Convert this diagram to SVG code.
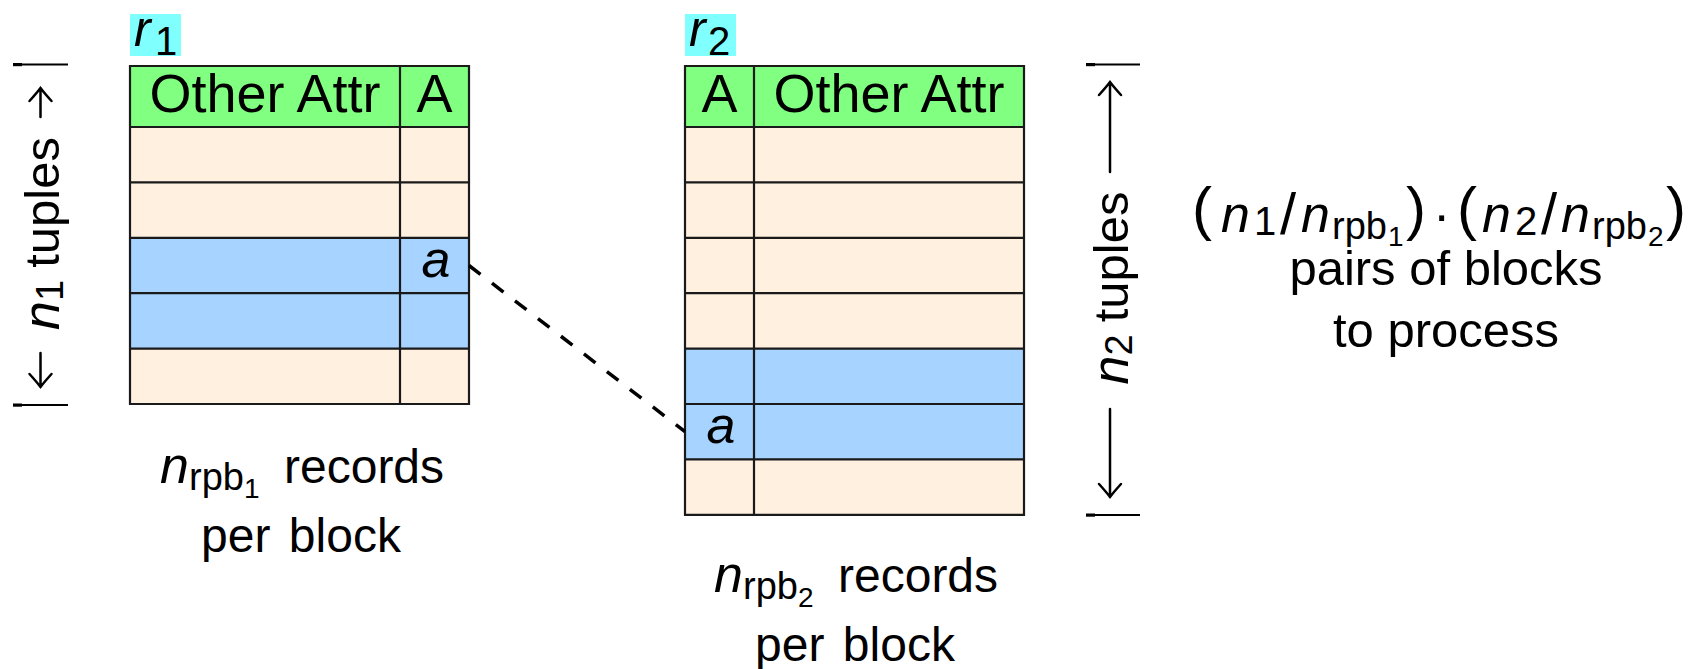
<svg xmlns="http://www.w3.org/2000/svg" width="1698" height="669" viewBox="0 0 1698 669">
<style>
.t{font-family:"Liberation Sans",Arial,sans-serif;fill:#000}
.i{font-style:italic}
.grid{stroke:#1a1a1a;stroke-width:2.2;fill:none}
.hdr{fill:#80FF80}
.row{fill:#FFF0E0}
.hl{fill:#A6D3FF}
.tag{fill:#80FFFF}
.ar{stroke:#000;stroke-width:2.5;fill:none;stroke-linecap:round}
.br{stroke:#000;stroke-width:2;fill:none}
</style>
<rect width="1698" height="669" fill="#fff"/>

<g id="label-r1">
<rect class="tag" x="130" y="14" width="51" height="42"/>
<text class="t" y="46"><tspan class="i" x="134" font-size="50">r</tspan><tspan x="155" y="55" font-size="40">1</tspan></text>
</g>
<g id="label-r2">
<rect class="tag" x="685" y="14" width="51" height="42"/>
<text class="t" y="46"><tspan class="i" x="689" font-size="50">r</tspan><tspan x="708" y="55" font-size="40">2</tspan></text>
</g>

<g id="table-r1">
<rect class="hdr" x="130" y="66" width="339" height="61"/>
<rect class="row" x="130" y="127" width="339" height="110.8"/>
<rect class="hl" x="130" y="237.8" width="339" height="110.8"/>
<rect class="row" x="130" y="348.6" width="339" height="55.4"/>
<path class="grid" d="M130 66H469V404H130Z M130 127H469 M130 182.4H469 M130 237.8H469 M130 293.2H469 M130 348.6H469 M400 66V404"/>
<text class="t" x="265" y="112" font-size="54" text-anchor="middle">Other Attr</text>
<text class="t" x="434.5" y="112" font-size="54" text-anchor="middle">A</text>
<text class="t i" x="436" y="277" font-size="52" text-anchor="middle">a</text>
</g>

<g id="table-r2">
<rect class="hdr" x="685" y="66" width="339" height="61"/>
<rect class="row" x="685" y="127" width="339" height="221.6"/>
<rect class="hl" x="685" y="348.6" width="339" height="110.8"/>
<rect class="row" x="685" y="459.4" width="339" height="55.4"/>
<path class="grid" d="M685 66H1024V514.8H685Z M685 127H1024 M685 182.4H1024 M685 237.8H1024 M685 293.2H1024 M685 348.6H1024 M685 404H1024 M685 459.4H1024 M754 66V514.8"/>
<text class="t" x="719.5" y="112" font-size="54" text-anchor="middle">A</text>
<text class="t" x="889" y="112" font-size="54" text-anchor="middle">Other Attr</text>
<text class="t i" x="721" y="443" font-size="52" text-anchor="middle">a</text>
</g>

<g id="connectors">
<line x1="469" y1="265.5" x2="685" y2="431.7" stroke="#000" stroke-width="3.5" stroke-dasharray="14.5 14.5"/>
</g>

<g id="label-n1-tuples">
<path class="br" d="M13 64.5H68 M13 405H68"/>
<rect x="13" y="63" width="9" height="3.2" fill="#000"/>
<rect x="13" y="403.5" width="9" height="3.2" fill="#000"/>
<path class="ar" d="M40.5 88V117 M29.5 101 C34 96,37.5 92,40.5 88 C43.5 92,47 96,51.5 101"/>
<path class="ar" d="M40.5 353V387 M29.5 374 C34 379,37.5 383,40.5 387 C43.5 383,47 379,51.5 374"/>
<text class="t" transform="translate(59,233.5) rotate(-90)" text-anchor="middle" font-size="49"><tspan class="i" font-size="52">n</tspan><tspan font-size="38" dy="4">1</tspan><tspan dx="12" dy="-4">tuples</tspan></text>
</g>

<g id="label-n2-tuples">
<path class="br" d="M1086 64.5H1140 M1086 515H1140"/>
<rect x="1086" y="63" width="9" height="3.2" fill="#000"/>
<rect x="1086" y="513.5" width="9" height="3.2" fill="#000"/>
<path class="ar" d="M1110 82V172 M1099 95 C1103.5 90,1107 86,1110 82 C1113 86,1116.5 90,1121 95"/>
<path class="ar" d="M1110 409V497 M1099 484 C1103.5 489,1107 493,1110 497 C1113 493,1116.5 489,1121 484"/>
<text class="t" transform="translate(1128,288) rotate(-90)" text-anchor="middle" font-size="49"><tspan class="i" font-size="52">n</tspan><tspan font-size="38" dy="4">2</tspan><tspan dx="12" dy="-4">tuples</tspan></text>
</g>

<g id="label-rpb1">
<text class="t" y="483"><tspan class="i" x="160" font-size="52">n</tspan><tspan x="189" y="490" font-size="38">rpb</tspan><tspan x="244" y="498" font-size="28">1</tspan><tspan x="284" y="483" font-size="48">records</tspan></text>
<text class="t" x="301" y="552" font-size="48" text-anchor="middle" word-spacing="5">per block</text>
</g>

<g id="label-rpb2">
<text class="t" y="592"><tspan class="i" x="714" font-size="52">n</tspan><tspan x="743" y="599" font-size="38">rpb</tspan><tspan x="798" y="607" font-size="28">2</tspan><tspan x="838" y="592" font-size="48">records</tspan></text>
<text class="t" x="855" y="661" font-size="48" text-anchor="middle" word-spacing="5">per block</text>
</g>

<g id="formula">
<text class="t" x="1192" y="229" font-size="60">(</text>
<text class="t i" x="1221" y="231.5" font-size="52">n</text>
<text class="t" x="1254" y="235" font-size="40">1</text>
<text class="t" x="1280" y="234" font-size="58">/</text>
<text class="t i" x="1301" y="231.5" font-size="52">n</text>
<text class="t" x="1332" y="239" font-size="38">rpb</text>
<text class="t" x="1388" y="246" font-size="28">1</text>
<text class="t" x="1406" y="229" font-size="60">)</text>
<text class="t" x="1433" y="231.5" font-size="52">·</text>
<text class="t" x="1457" y="229" font-size="60">(</text>
<text class="t i" x="1482" y="231.5" font-size="52">n</text>
<text class="t" x="1515" y="235" font-size="40">2</text>
<text class="t" x="1541" y="234" font-size="58">/</text>
<text class="t i" x="1561" y="231.5" font-size="52">n</text>
<text class="t" x="1592" y="239" font-size="38">rpb</text>
<text class="t" x="1648" y="246" font-size="28">2</text>
<text class="t" x="1666" y="229" font-size="60">)</text>
<text class="t" x="1446" y="285" font-size="49" text-anchor="middle">pairs of blocks</text>
<text class="t" x="1446" y="346.5" font-size="49" text-anchor="middle">to process</text>
</g>
</svg>
